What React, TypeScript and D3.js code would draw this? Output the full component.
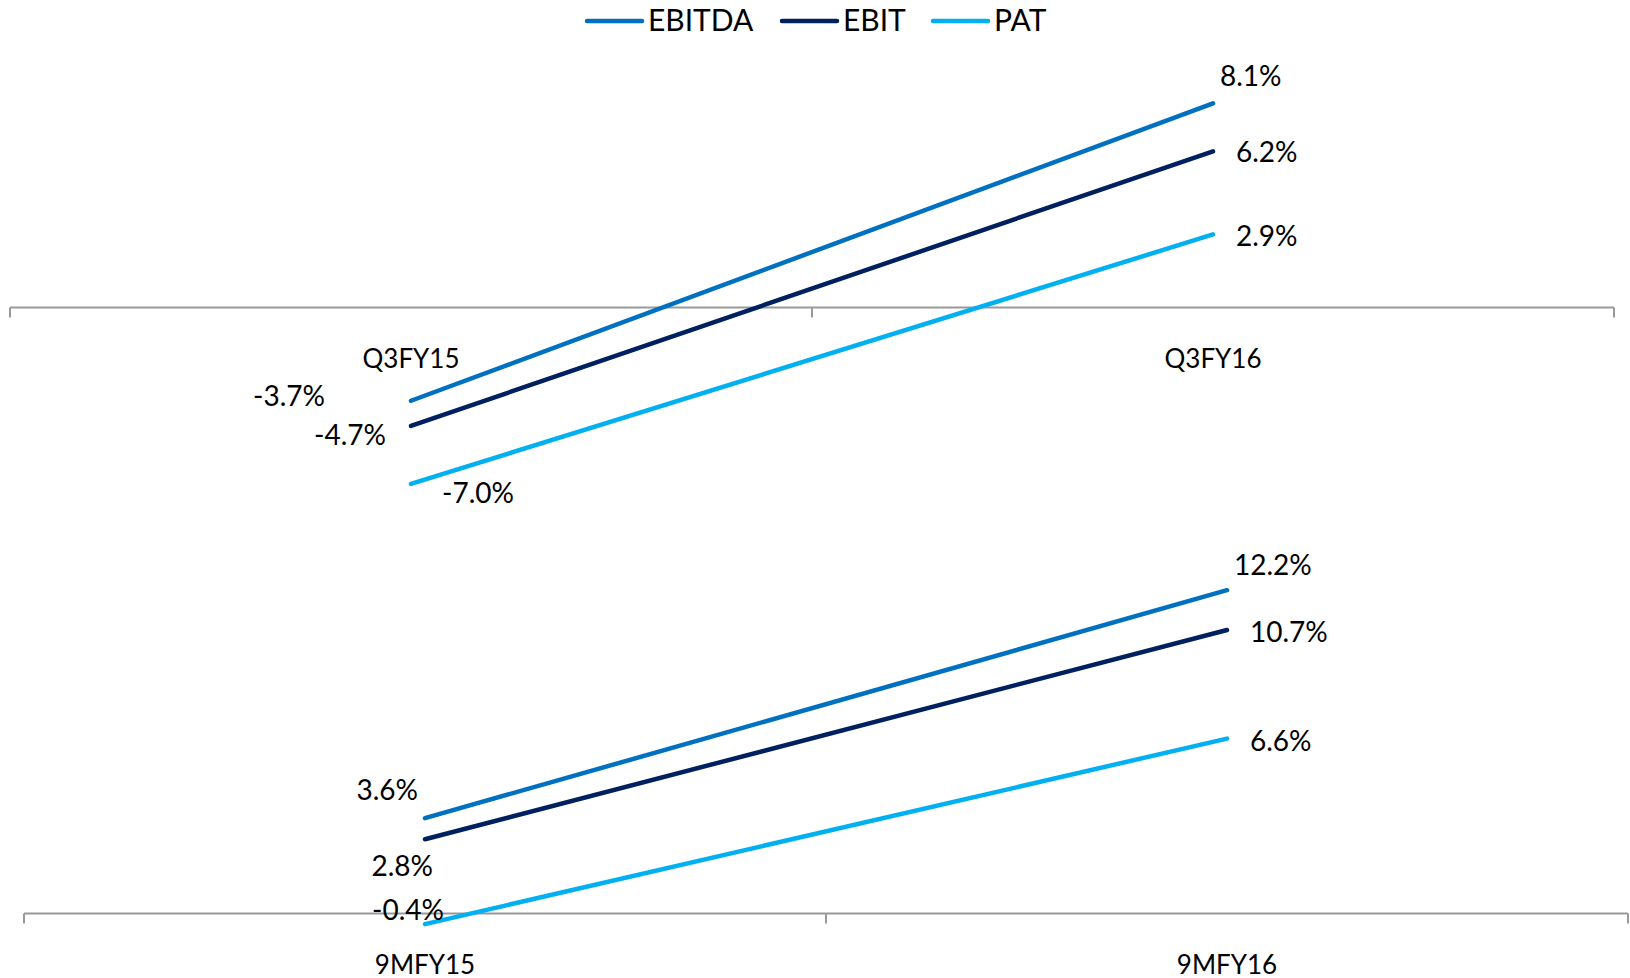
import React, { useEffect } from "react";
import * as d3 from "d3";

// series, in legend order
const seriesNames = ["EBITDA", "EBIT", "PAT"];
const seriesColors = ["#0070C0", "#002060", "#00B0F0"];

// top panel: quarter
const quarterCats = ["Q3FY15", "Q3FY16"];
const quarterEbitda = [-3.7, 8.1];
const quarterEbit = [-4.7, 6.2];
const quarterPat = [-7.0, 2.9];

// bottom panel: nine months
const nineMonthCats = ["9MFY15", "9MFY16"];
const nineMonthEbitda = [3.6, 12.2];
const nineMonthEbit = [2.8, 10.7];
const nineMonthPat = [-0.4, 6.6];

const W = 1630;
const H = 978;
const FONT = "Lato, 'Open Sans', 'DejaVu Sans', sans-serif";

// label placement per series per point: [dx, dy, anchor]
type Place = [number, number, "start" | "middle" | "end"];
const quarterPlaces: Place[][] = [
  [[-86, 5, "end"], [7, -17, "start"]],
  [[-25, 19, "end"], [23, 11, "start"]],
  [[31, 19, "start"], [23, 12, "start"]],
];
const nineMonthPlaces: Place[][] = [
  [[-7, -18, "end"], [7, -15, "start"]],
  [[8, 37, "end"], [23, 12, "start"]],
  [[19, -4, "end"], [23, 12, "start"]],
];

interface PanelProps {
  cats: string[];
  values: number[][];
  places: Place[][];
  x0: number;
  x1: number;
  zeroY: number;
  pxPerUnit: number;
  domain: [number, number];
}

const Panel: React.FC<PanelProps> = ({
  cats,
  values,
  places,
  x0,
  x1,
  zeroY,
  pxPerUnit,
  domain,
}) => {
  const x = d3.scaleBand<string>().domain(cats).range([x0, x1]);
  const y = d3
    .scaleLinear()
    .domain(domain)
    .range([zeroY - domain[0] * pxPerUnit, zeroY - domain[1] * pxPerUnit]);
  const cx = (c: string) => (x(c) ?? 0) + x.bandwidth() / 2;
  const line = d3
    .line<number>()
    .x((_, i) => cx(cats[i]))
    .y((d) => y(d));
  const axisY = y(0);
  const tickXs = [x0, ...cats.slice(1).map((c) => x(c) ?? 0), x1];

  return (
    <g>
      <line
        x1={x0}
        x2={x1}
        y1={axisY}
        y2={axisY}
        stroke="#999999"
        strokeWidth={2}
      />
      {tickXs.map((t, i) => (
        <line
          key={i}
          x1={t}
          x2={t}
          y1={axisY}
          y2={axisY + 10}
          stroke="#999999"
          strokeWidth={2}
        />
      ))}
      {cats.map((c) => (
        <text
          key={c}
          x={cx(c)}
          y={axisY + 60}
          textAnchor="middle"
          fontFamily={FONT}
          fontSize={26}
          fill="#000"
        >
          {c}
        </text>
      ))}
      {values.map((vals, si) => (
        <path
          key={si}
          d={line(vals) ?? ""}
          fill="none"
          stroke={seriesColors[si]}
          strokeWidth={4.5}
          strokeLinecap="round"
        />
      ))}
      {values.map((vals, si) =>
        vals.map((v, i) => {
          const [dx, dy, anchor] = places[si][i];
          return (
            <text
              key={`${si}-${i}`}
              x={cx(cats[i]) + dx}
              y={y(v) + dy}
              textAnchor={anchor}
              fontFamily={FONT}
              fontSize={28}
              fill="#000"
            >
              {v.toFixed(1)}%
            </text>
          );
        })
      )}
    </g>
  );
};

export default function App() {
  useEffect(() => {
    document.body.style.margin = "0";
  }, []);

  const legendLineX = [587, 782, 933];

  return (
    <svg
      width={W}
      height={H}
      viewBox={`0 0 ${W} ${H}`}
      style={{ display: "block", background: "#fff" }}
    >
      <rect width={W} height={H} fill="#fff" />
      {seriesNames.map((name, i) => (
        <g key={name}>
          <line
            x1={legendLineX[i]}
            x2={legendLineX[i] + 55}
            y1={21}
            y2={21}
            stroke={seriesColors[i]}
            strokeWidth={4.5}
            strokeLinecap="round"
          />
          <text
            x={legendLineX[i] + 61}
            y={31}
            fontFamily={FONT}
            fontSize={30}
            fill="#000"
          >
            {name}
          </text>
        </g>
      ))}
      <Panel
        cats={quarterCats}
        values={[quarterEbitda, quarterEbit, quarterPat]}
        places={quarterPlaces}
        x0={10}
        x1={1614}
        zeroY={307.5}
        pxPerUnit={25.2}
        domain={[-8, 10]}
      />
      <Panel
        cats={nineMonthCats}
        values={[nineMonthEbitda, nineMonthEbit, nineMonthPat]}
        places={nineMonthPlaces}
        x0={24}
        x1={1628}
        zeroY={913.5}
        pxPerUnit={26.5}
        domain={[-2, 14]}
      />
    </svg>
  );
}
